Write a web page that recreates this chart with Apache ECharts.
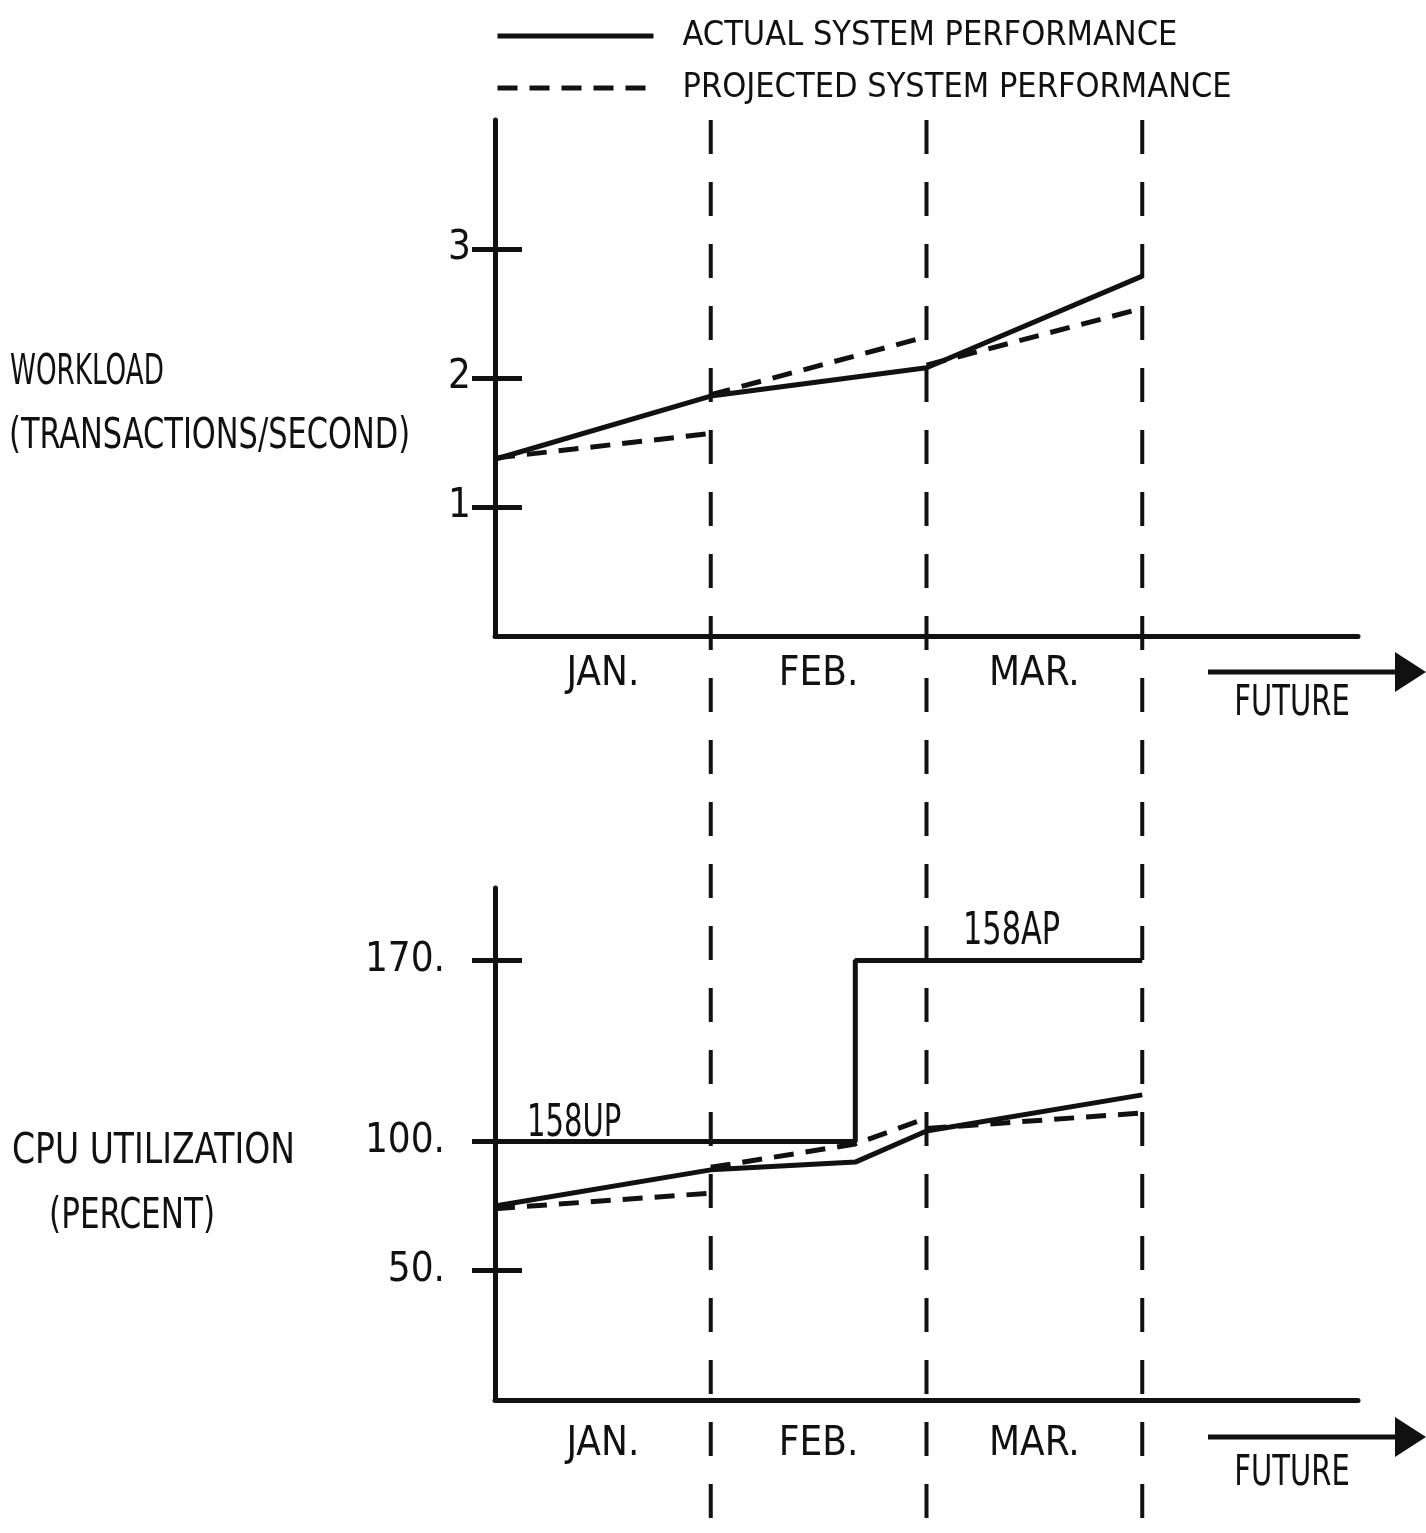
<!DOCTYPE html>
<html>
<head>
<meta charset="utf-8">
<script src="https://cdn.jsdelivr.net/npm/echarts@6/dist/echarts.min.js"></script>
<style>html,body{margin:0;padding:0;background:#fff;}#c{width:1426px;height:1533px;}</style>
</head>
<body>
<div id="c"></div>
<script>
// ---- data ----
const months = ['JAN.', 'FEB.', 'MAR.'];
const monthLabelAt = [0.5, 1.5, 2.5];
const monthEnds = [1, 2, 3];
const workloadTicks = [1, 2, 3];
const cpuTicks = [50, 100, 170];
const seriesNames = ['ACTUAL SYSTEM PERFORMANCE', 'PROJECTED SYSTEM PERFORMANCE'];
// workload (transactions/second)
const workloadActual = [[0, 1.37], [1, 1.86], [2, 2.08], [3, 2.79]];
const workloadProjected = [[0, 1.38], [1, 1.57], [1, '-'], [1, 1.87], [2, 2.32], [2, '-'], [2, 2.10], [3, 2.54]];
// cpu utilization (percent)
const cpuCapacity = [[0, 100], [1.67, 100], [1.67, 170], [3, 170]];
const capacityLabels = ['158UP', '158AP'];
const cpuActual = [[0, 75], [1, 89], [1.67, 92], [2, 104], [3, 118]];
const cpuProjected = [[0, 74], [1, 80], [1, '-'], [1, 90], [1.67, 99], [2, 109], [2, '-'], [2, 105], [3, 111]];

const FONT = "'DejaVu Sans Condensed','Liberation Sans Narrow','Arial Narrow','DejaVu Sans',sans-serif";
const INK = '#111';

const chart = echarts.init(document.getElementById('c'), null, {renderer: 'canvas'});

function monthBoundaryData() {
  const d = [];
  monthEnds.forEach(m => { d.push([m, 1], [m, 0], [m, '-']); });
  return d;
}

function xAxisFor(grid, margin) {
  return {
    type: 'value', gridIndex: grid, min: 0, max: 4,
    axisLine: {show: true, onZero: false, lineStyle: {color: INK, width: 5}},
    axisTick: {show: false}, splitLine: {show: false},
    axisLabel: {
      customValues: monthLabelAt, color: INK, fontFamily: FONT, fontSize: 40, margin: margin,
      formatter: v => months[Math.floor(v)]
    }
  };
}
function yAxesFor(grid, max, ticks, margin) {
  return [{
    type: 'value', gridIndex: grid, position: 'left', min: 0, max: max,
    axisLine: {show: true, lineStyle: {color: INK, width: 5}},
    axisTick: {show: true, customValues: ticks, inside: false, length: 23, lineStyle: {color: INK, width: 5}},
    axisLabel: {customValues: ticks, color: INK, fontFamily: FONT, fontSize: 40, margin: margin,
      formatter: v => (max > 10 ? v + '.' : String(v))},
    splitLine: {show: false}
  }, {
    type: 'value', gridIndex: grid, position: 'left', min: 0, max: max,
    axisLine: {show: false},
    axisTick: {show: true, customValues: ticks, inside: true, length: 27, lineStyle: {color: INK, width: 5}},
    axisLabel: {show: false}, splitLine: {show: false}
  }];
}

const solid = {color: INK, width: 5, type: 'solid'};
const dashed = {color: INK, width: 5, type: [20, 12]};

function textEl(text, x, y, size, sx, sy, align) {
  return {type: 'text', x: x, y: y, scaleX: sx, scaleY: sy, z: 10,
    style: {text: text, x: 0, y: 0, font: size + 'px ' + FONT, fill: INK, align: align || 'left', verticalAlign: 'middle'}};
}
function arrowEls(y) {
  return [
    {type: 'line', shape: {x1: 1208, y1: y, x2: 1400, y2: y}, style: {stroke: INK, lineWidth: 5}},
    {type: 'polygon', shape: {points: [[1395, y - 20], [1426, y], [1395, y + 20]]}, style: {fill: INK}}
  ];
}

const option = {
  backgroundColor: '#fff',
  animation: false,
  legend: {
    data: seriesNames, orient: 'vertical', left: 490, top: 11, itemWidth: 156, itemHeight: 14, itemGap: 12,
    selectedMode: false,
    itemStyle: {opacity: 0},
    lineStyle: {width: 5, color: INK},
    textStyle: {color: INK, fontFamily: FONT, fontSize: 34, lineHeight: 40, padding: [0, 0, 0, 24]}
  },
  grid: [
    {left: 495, top: 120, width: 863, height: 516},
    {left: 495, top: 888, width: 863, height: 512},
    {left: 495, top: 120, width: 863, height: 1413}
  ],
  xAxis: [xAxisFor(0, 19), xAxisFor(1, 25), {type: 'value', gridIndex: 2, min: 0, max: 4, show: false}],
  yAxis: [].concat(yAxesFor(0, 4, workloadTicks, 24), yAxesFor(1, 198, cpuTicks, 50),
    [{type: 'value', gridIndex: 2, min: 0, max: 1, show: false}]),
  series: [
    {name: 'bounds', type: 'line', xAxisIndex: 2, yAxisIndex: 4, data: monthBoundaryData(), symbol: 'none',
      connectNulls: false, silent: true, lineStyle: {color: INK, width: 4, type: [34, 28]}, z: 1},
    {name: seriesNames[0], type: 'line', xAxisIndex: 0, yAxisIndex: 0, data: workloadActual, symbol: 'none', itemStyle: {color: INK}, lineStyle: solid, z: 3},
    {name: seriesNames[1], type: 'line', xAxisIndex: 0, yAxisIndex: 0, data: workloadProjected, symbol: 'none', itemStyle: {color: INK}, connectNulls: false, lineStyle: dashed, z: 3},
    {name: 'capacity', type: 'line', xAxisIndex: 1, yAxisIndex: 2, data: cpuCapacity, symbol: 'none', itemStyle: {color: INK}, lineStyle: {color: INK, width: 5}, z: 3},
    {name: seriesNames[0], type: 'line', xAxisIndex: 1, yAxisIndex: 2, data: cpuActual, symbol: 'none', itemStyle: {color: INK}, lineStyle: solid, z: 3},
    {name: seriesNames[1], type: 'line', xAxisIndex: 1, yAxisIndex: 2, data: cpuProjected, symbol: 'none', itemStyle: {color: INK}, connectNulls: false, lineStyle: dashed, z: 3}
  ],
  graphic: [
    textEl('WORKLOAD', 10, 373, 36, 0.81, 1.2),
    textEl('(TRANSACTIONS/SECOND)', 9, 437, 36, 0.94, 1.2),
    textEl('CPU UTILIZATION', 12, 1152, 36, 1.02, 1.2),
    textEl('(PERCENT)', 49, 1217, 36, 0.96, 1.2),
    textEl(capacityLabels[0], 527, 1124, 38, 0.85, 1.18),
    textEl(capacityLabels[1], 963, 932, 38, 0.89, 1.18),
    textEl('FUTURE', 1292, 704, 38, 0.85, 1.1, 'center'),
    textEl('FUTURE', 1292, 1474, 38, 0.85, 1.1, 'center')
  ].concat(arrowEls(672), arrowEls(1437))
};
chart.setOption(option);
</script>
</body>
</html>
